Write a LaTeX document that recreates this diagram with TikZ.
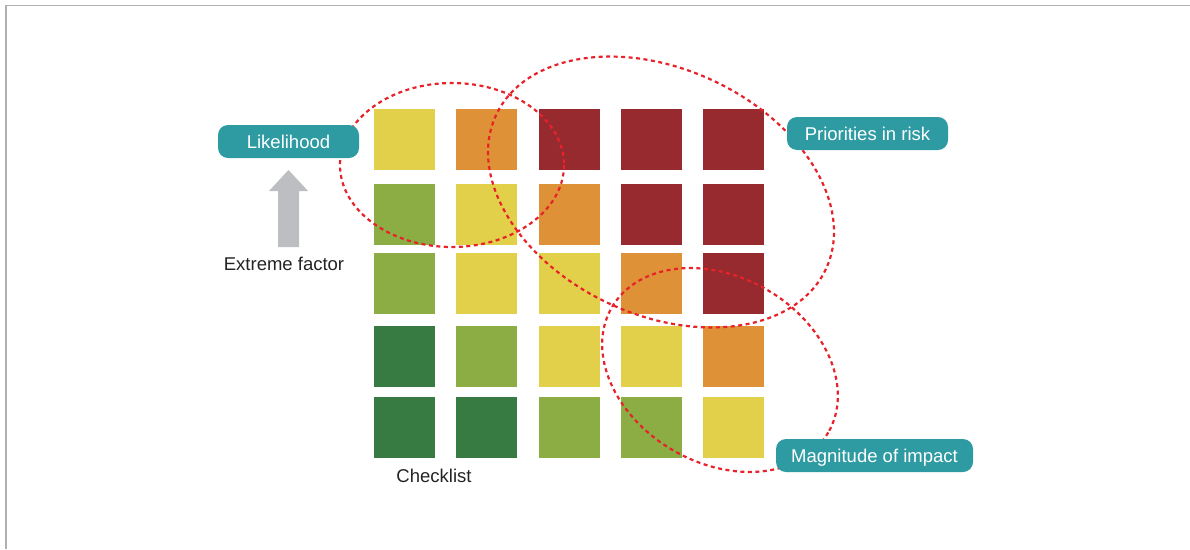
\documentclass[tikz,border=0pt]{standalone}
\usepackage{fontspec}
\setmainfont{Liberation Sans}
\definecolor{sqyellow}{RGB}{226,208,74}
\definecolor{sqorange}{RGB}{222,145,55}
\definecolor{sqred}{RGB}{150,42,47}
\definecolor{sqlgreen}{RGB}{140,172,68}
\definecolor{sqdgreen}{RGB}{55,123,67}
\definecolor{tagteal}{RGB}{46,155,162}
\definecolor{arrowgray}{RGB}{189,190,194}
\definecolor{zonered}{RGB}{232,34,43}
\definecolor{framegray}{RGB}{176,176,176}
\definecolor{textgray}{RGB}{35,35,35}
\begin{document}
\begin{tikzpicture}[x=1pt, y=-1pt,
    cell/.style={minimum size=61pt, inner sep=0pt, outer sep=0pt},
    tag/.style={fill=tagteal, rounded corners=10pt, text=white, minimum height=33pt, inner sep=0pt,
        text height=13.3pt, text depth=0pt, font=\fontsize{18.5}{22}\selectfont},
    zone/.style={draw=zonered, line width=2.2pt, dash pattern=on 4pt off 3.5pt},
    caption/.style={text=textgray, inner sep=0pt, anchor=base, font=\fontsize{18.5}{22}\selectfont}]
    \useasboundingbox (0,0) rectangle (1190,549);

    % Rahmen
    \draw[framegray, line width=1.5pt] (6,549) -- (6,5.5) -- (1190,5.5);

    % Risikomatrix
    \foreach \y/\cols [count=\r] in {139.5/{sqyellow,sqorange,sqred,sqred,sqred},
                                     214.5/{sqlgreen,sqyellow,sqorange,sqred,sqred},
                                     283.5/{sqlgreen,sqyellow,sqyellow,sqorange,sqred},
                                     356.5/{sqdgreen,sqlgreen,sqyellow,sqyellow,sqorange},
                                     427.5/{sqdgreen,sqdgreen,sqlgreen,sqlgreen,sqyellow}}
        \foreach \c [count=\i] in \cols
            \node[cell, fill=\c] (r\r c\i) at ({404.5+82.25*(\i-1)}, \y) {};

    % Zonen
    \coordinate (likec) at (452,165);
    \coordinate (prioc) at (661,192);
    \coordinate (magc) at (720,370);
    \draw[zone] (likec) ellipse [x radius=112, y radius=82];
    \draw[zone, rotate around={-25:(prioc)}] (prioc) ellipse [x radius=182, y radius=123];
    \draw[zone, rotate around={-30:(magc)}] (magc) ellipse [x radius=125, y radius=93];

    % Pfeil
    \fill[arrowgray] (278,247) -- (278,191) -- (269,191) -- (288.5,170) -- (308,191) -- (299,191) -- (299,247) -- cycle;

    % Beschriftungen
    \node[tag, minimum width=141pt] (likelihood) at (288.5,141.5) {Likelihood};
    \node[tag, minimum width=161pt] (priorities) at (867.5,133.5) {Priorities in risk};
    \node[tag, minimum width=197pt] (magnitude) at (874.5,455.5) {Magnitude of impact};
    \node[caption] (extreme) at (284,270) {Extreme factor};
    \node[caption] (checklist) at (434,482) {Checklist};
\end{tikzpicture}
\end{document}
